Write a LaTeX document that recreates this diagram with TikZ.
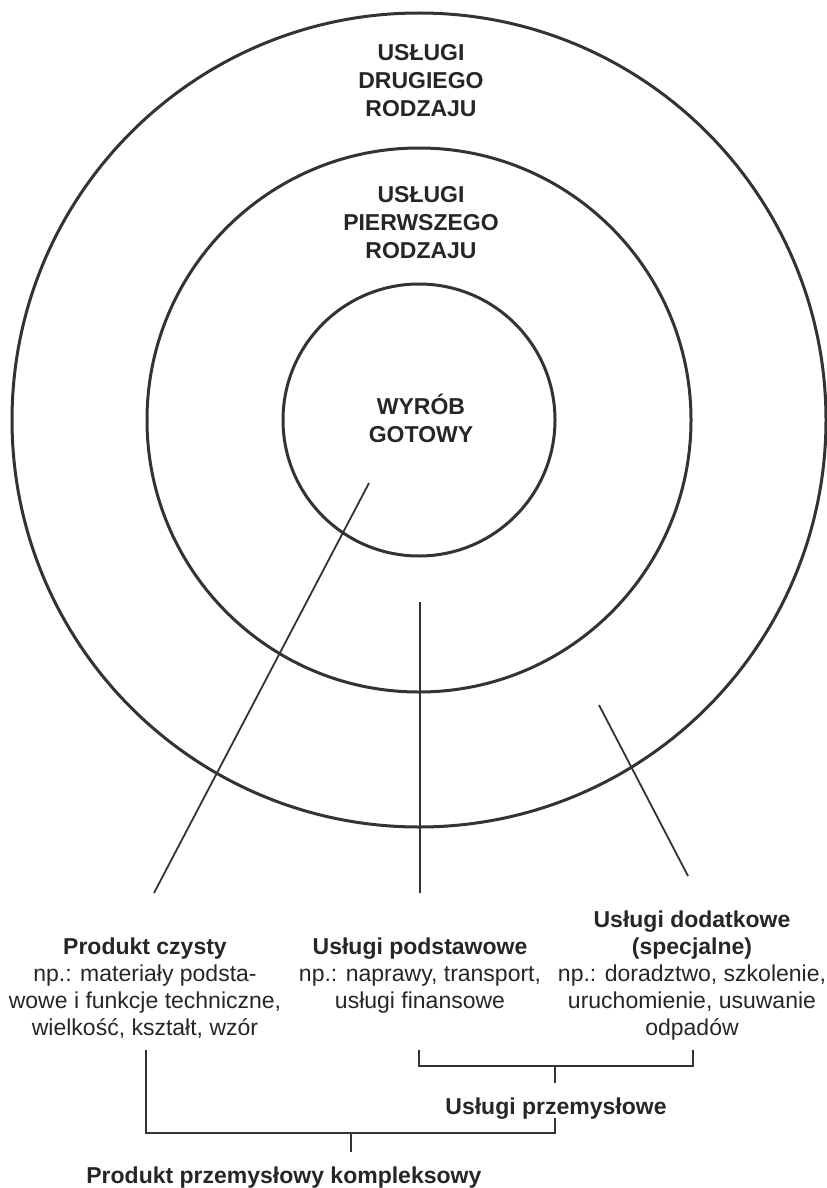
\documentclass[tikz,border=0pt]{standalone}
\usepackage{fontspec}
\setmainfont{Liberation Sans}
\usetikzlibrary{positioning}

\begin{document}
\begin{tikzpicture}[x=0.5pt,y=-0.5pt,
  ring/.style={circle,draw=black!80,line width=1.5pt,inner sep=0pt},
  lead/.style={draw=black!80,line width=0.9pt},
  brk/.style={draw=black!80,line width=1.1pt},
  caps/.style={font=\bfseries\fontsize{11.5}{14}\selectfont,text=black!85,align=center,inner sep=0pt,anchor=base},
  blk/.style={font=\fontsize{11.5}{13.5}\selectfont,text=black!85,align=center,inner sep=0pt,anchor=base}]
  \useasboundingbox (0,0) rectangle (826,1188);
  % rings
  \node[ring,minimum size=407pt] (outer) at (419,420) {};
  \node[ring,minimum size=272pt] (middle) at (419,420) {};
  \node[ring,minimum size=136pt] (inner) at (419,420) {};
  \node[caps] (drugi) at (421,117) {USŁUGI\\DRUGIEGO\\RODZAJU};
  \node[caps] (pierw) at (421,258) {USŁUGI\\PIERWSZEGO\\RODZAJU};
  \node[caps] (wyrob) at (421,442) {WYRÓB\\GOTOWY};
  % descriptions
  \node[blk] (czysty) at (145,1035) {\textbf{Produkt czysty}\\np.: materiały podsta-\\wowe i funkcje techniczne,\\wielkość, kształt, wzór};
  \node[blk] (podst) at (420,1008) {\textbf{Usługi podstawowe}\\np.: naprawy, transport,\\usługi finansowe};
  \node[blk] (dodat) at (692,1035) {\textbf{Usługi dodatkowe}\\\textbf{(specjalne)}\\np.: doradztwo, szkolenie,\\uruchomienie, usuwanie\\odpadów};
  % leaders
  \coordinate (l1a) at (369,483); \coordinate (l1b) at (154,893);
  \coordinate (l2a) at (420,602); \coordinate (l2b) at (420,893);
  \coordinate (l3a) at (599,705); \coordinate (l3b) at (688,876);
  \draw[lead] (l1a) -- (l1b);
  \draw[lead] (l2a) -- (l2b);
  \draw[lead] (l3a) -- (l3b);
  % brackets
  \coordinate (b1l) at (419,1050); \coordinate (b1r) at (693,1050);
  \coordinate (b1m) at (555,1066); \coordinate (b1t) at (555,1083);
  \draw[brk] (b1l) -- ++(0,16) -| (b1r);
  \draw[brk] (b1m) -- (b1t);
  \node[caps] (przem) at (556,1114) {Usługi przemysłowe};
  \coordinate (b2l) at (146,1050); \coordinate (b2r) at (555,1118);
  \coordinate (b2m) at (351,1133); \coordinate (b2t) at (351,1152);
  \draw[brk] (b2l) -- ++(0,83) -| (b2r);
  \draw[brk] (b2m) -- (b2t);
  \node[caps,anchor=base west] (kompl) at (86,1183) {Produkt przemysłowy kompleksowy};
\end{tikzpicture}
\end{document}
